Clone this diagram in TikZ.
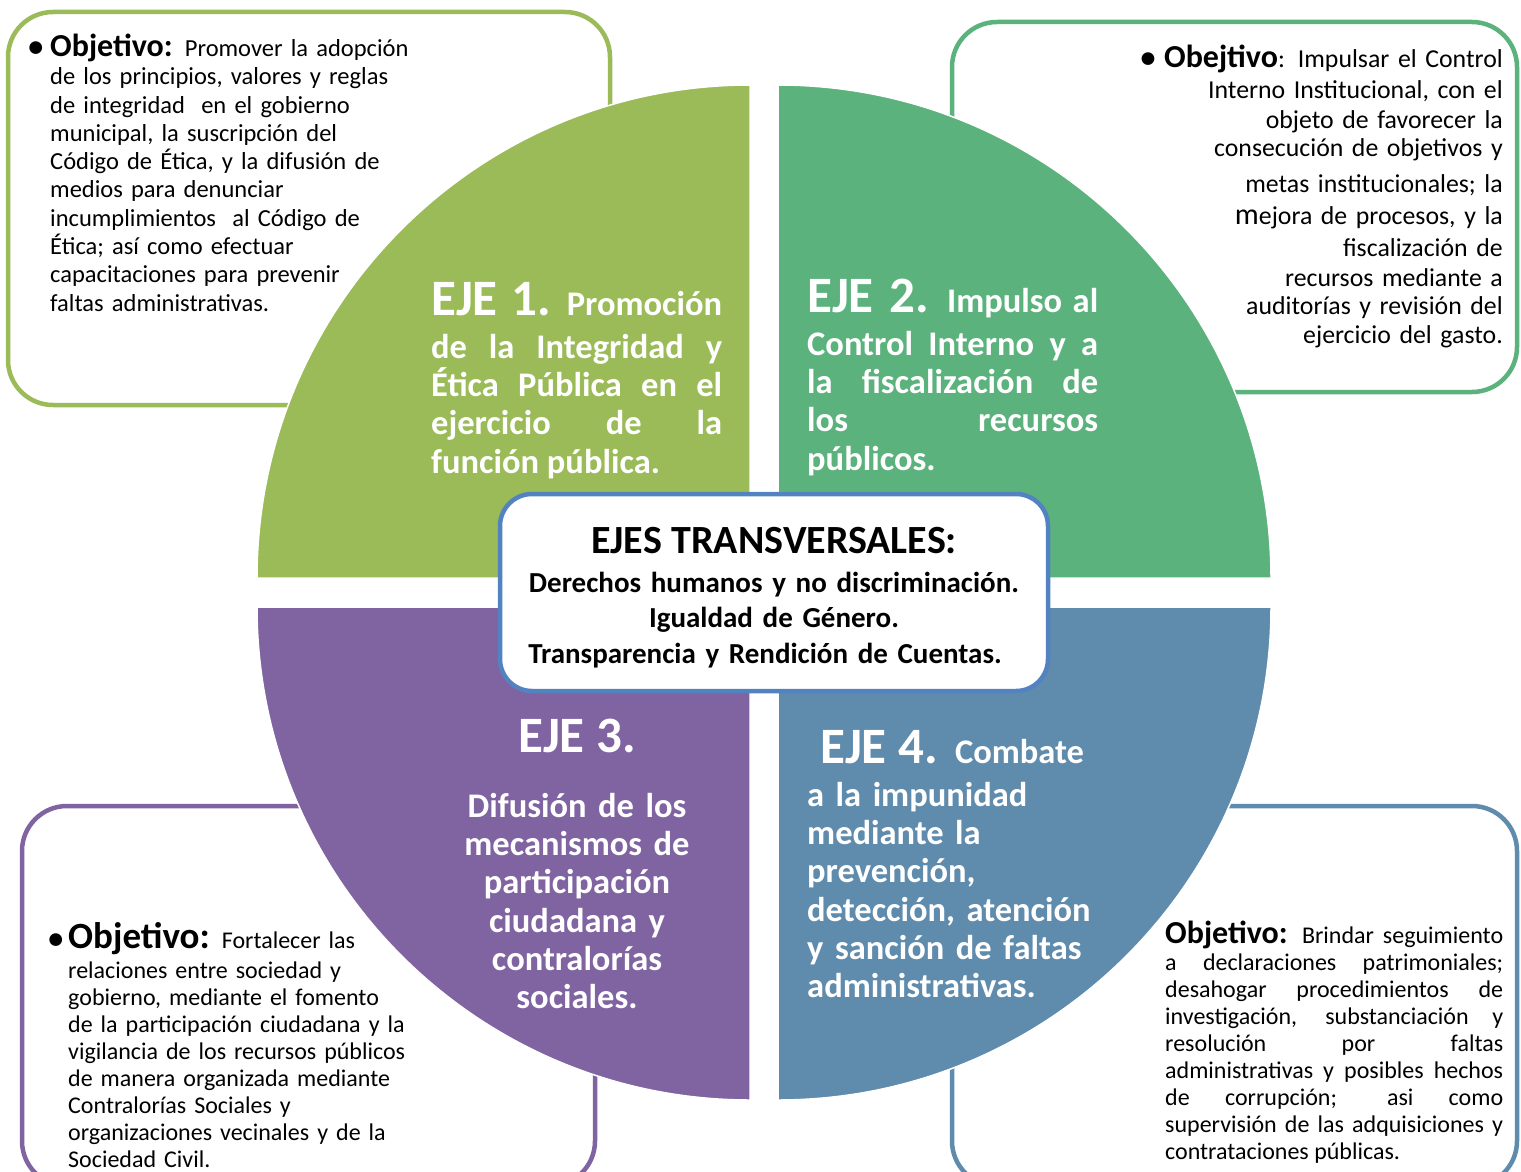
\documentclass[tikz,border=0pt]{standalone}
\usepackage{fontspec}
\setmainfont{Carlito}
\definecolor{ejeA}{HTML}{9BBB59}
\definecolor{ejeB}{HTML}{5CB27D}
\definecolor{ejeC}{HTML}{8064A2}
\definecolor{ejeD}{HTML}{5F8BAD}
\definecolor{ejeBox}{HTML}{5283C0}
\newcommand{\objA}{\fontsize{32}{28}\selectfont\bfseries}
\newcommand{\objB}{\fontsize{37}{27}\selectfont\bfseries}
\newcommand{\ejebig}{\fontsize{51}{38}\selectfont\bfseries}
\newcommand{\bigbullet}{{\fontsize{30}{28}\selectfont\bfseries\textbullet}}
\begin{document}
\begin{tikzpicture}[x=1pt,y=-1pt,
  objbox/.style={draw, line width=4.5pt, fill=white, rounded corners=45pt, inner sep=0pt},
  quad/.style={draw=white, line width=1.5pt},
  txt/.style={inner sep=0pt, font=\fontsize{24.5}{28.3}\selectfont},
  txtb/.style={inner sep=0pt, font=\fontsize{24}{27}\selectfont},
  ejetxt/.style={inner sep=0pt, text=white, font=\fontsize{34.5}{38.3}\selectfont\bfseries},
]
\useasboundingbox (0,0) rectangle (1521,1172);
\fill[white] (0,0) rectangle (1521,1172);

% objective boxes
\node[objbox, draw=ejeA, minimum width=602pt, minimum height=393pt] (boxA) at (309,208.5) {};
\node[objbox, draw=ejeB, minimum width=565pt, minimum height=370pt] (boxB) at (1234.5,207) {};
\node[objbox, draw=ejeC, minimum width=573pt, minimum height=380pt] (boxC) at (308.5,996) {};
\node[objbox, draw=ejeD, minimum width=565pt, minimum height=380pt] (boxD) at (1234.5,996) {};

% quadrants
\fill[ejeA, quad] (750,578) -- (257,578) arc[start angle=180, end angle=270, radius=493] -- cycle;
\fill[ejeB, quad] (778,578) -- (778,85) arc[start angle=270, end angle=360, radius=493] -- cycle;
\fill[ejeC, quad] (750,607) -- (257,607) arc[start angle=180, end angle=90, radius=493] -- cycle;
\fill[ejeD, quad] (778,607) -- (1271,607) arc[start angle=0, end angle=90, radius=493] -- cycle;

% objective texts
\node[txt, anchor=base west, text width=400pt, align=left] (objA) at (50,56.5)
 {\llap{\bigbullet\hspace{7pt}}{\objA Objetivo:} Promover la adopción\\
 de los principios, valores y reglas\\
 de integridad\ \ en el gobierno\\
 municipal, la suscripción del\\
 Código de Ética, y la difusión de\\
 medios para denunciar\\
 incumplimientos\ \ al Código de\\
 Ética; así como efectuar\\
 capacitaciones para prevenir\\
 faltas administrativas.};

\node[txt, anchor=base east, text width=380pt, align=right, font=\fontsize{25.8}{29}\selectfont] (objB) at (1503,68)
 {\bigbullet\ {\objA Obejtivo}: Impulsar el Control\\[2pt]
 Interno Institucional, con el\\
 objeto de favorecer la\\
 consecución de objetivos y\\[6pt]
 metas institucionales; la\\[4pt]
 {\fontsize{30}{29}\selectfont m}ejora de procesos, y la\\[3pt]
 fiscalización de\\
 recursos mediante a\\
 auditorías y revisión del\\
 ejercicio del gasto.};

\node[txtb, anchor=base west, text width=380pt, align=left] (objC) at (68,948)
 {\llap{\bigbullet\hspace{5pt}}{\objB Objetivo:} Fortalecer las\\[3pt]
 relaciones entre sociedad y\\
 gobierno, mediante el fomento\\
 de la participación ciudadana y la\\
 vigilancia de los recursos públicos\\
 de manera organizada mediante\\
 Contralorías Sociales y\\
 organizaciones vecinales y de la\\
 Sociedad Civil.};

\node[txtb, anchor=base west, text width=338pt, align=justify] (objD) at (1165,943)
 {{\objA Objetivo:} Brindar seguimiento\linebreak
 a declaraciones patrimoniales;\linebreak
 desahogar procedimientos de\linebreak
 investigación, substanciación y\linebreak
 resolución por faltas\linebreak
 administrativas y posibles hechos\linebreak
 de corrupción; asi como\linebreak
 supervisión de las adquisiciones y\linebreak
 contrataciones públicas.};

% eje texts
\node[ejetxt, anchor=base west, text width=291pt, align=justify] (eje1) at (431,315)
 {{\ejebig EJE 1.} Promoción\vspace{5pt}\linebreak
 de la Integridad y\linebreak
 Ética Pública en el\linebreak
 ejercicio de la\linebreak
 función pública.};

\node[ejetxt, anchor=base west, text width=291pt, align=justify] (eje2) at (807,312)
 {{\ejebig EJE 2.} Impulso al\vspace{5pt}\linebreak
 Control Interno y a\linebreak
 la fiscalización de\linebreak
 los recursos\linebreak
 públicos.};

\node[ejetxt, anchor=base, text width=300pt, align=center] (eje3) at (577,752)
 {{\ejebig EJE 3.}\\[27pt]
 Difusión de los\\
 mecanismos de\\
 participación\\
 ciudadana y\\
 contralorías\\
 sociales.};

\node[ejetxt, anchor=base west, text width=320pt, align=left] (eje4) at (807,763)
 {\hspace*{13pt}{\ejebig EJE 4.} Combate\\[5pt]
 a la impunidad\\
 mediante la\\
 prevención,\\
 detección, atención\\
 y sanción de faltas\\
 administrativas.};

% center box
\node[draw=ejeBox, line width=4.5pt, fill=white, rounded corners=32pt,
      minimum width=548pt, minimum height=197pt, inner sep=0pt] (center) at (774,592.5) {};
\node[inner sep=0pt, anchor=base, text width=540pt, align=center, font=\fontsize{29}{35.5}\selectfont\bfseries] (centertxt) at (774,553)
 {{\fontsize{40}{38}\selectfont EJES TRANSVERSALES:}\\[3.5pt]
 Derechos humanos y no discriminación.\\
 Igualdad de Género.\\
 \mbox{Transparencia y Rendición de Cuentas.\kern18pt}};
\end{tikzpicture}
\end{document}
